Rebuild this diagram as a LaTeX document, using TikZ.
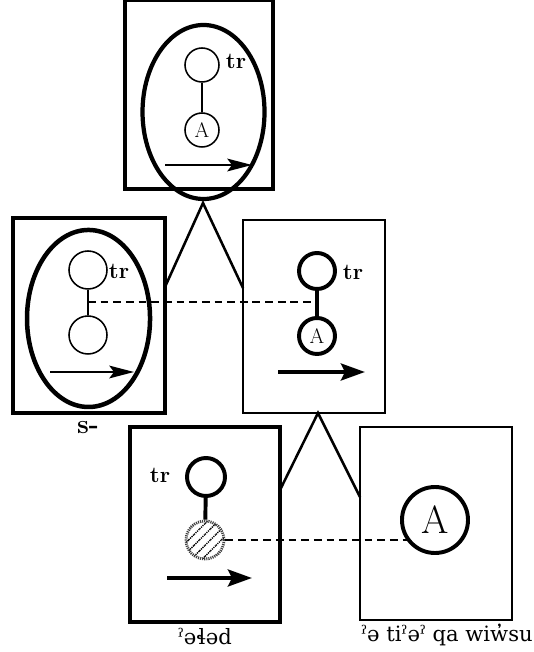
\documentclass[tikz,border=0pt]{standalone}
\usepackage{fontspec}
\usetikzlibrary{arrows.meta,patterns.meta}
\newfontfamily\ipafont{DejaVu Serif}
\begin{document}
\begin{tikzpicture}[
  frame/.style={draw, line width=2.6pt, inner sep=0pt, outer sep=0pt},
  thinframe/.style={draw, line width=1.6pt, inner sep=0pt, outer sep=0pt},
  slot/.style={draw, circle, line width=1.1pt, inner sep=0pt, minimum size=0.85cm, font=\fontsize{15}{15}\selectfont},
  boldslot/.style={slot, line width=2.8pt, minimum size=0.9cm},
  tier/.style={font=\fontsize{16}{16}\selectfont\bfseries},
  ring/.style={line width=3pt},
  link/.style={line width=1.8pt},
  tie/.style={line width=1.8pt, dash pattern=on 5.5pt off 3.5pt},
  path/.style={line width=1.1pt, -{Stealth[length=0.62cm, width=0.32cm, inset=0.12cm]}},
  boldpath/.style={line width=3pt, -{Stealth[length=0.6cm, width=0.42cm, inset=0.1cm]}},
  form/.style={font=\ipafont\fontsize{15}{15}\selectfont}
]
\useasboundingbox (0.000, 0.000) rectangle (13.325, 16.300);
% boxes
\node[frame, line width=2.2pt, minimum width=3.700cm, minimum height=4.725cm] (top) at (4.975, 13.938) {};
\node[frame, line width=3pt, minimum width=3.800cm, minimum height=4.875cm] (left) at (2.225, 8.413) {};
\node[thinframe, minimum width=3.550cm, minimum height=4.825cm] (mid) at (7.850, 8.388) {};
\node[frame, line width=3pt, minimum width=3.750cm, minimum height=4.875cm] (low) at (5.125, 3.188) {};
\node[thinframe, minimum width=3.800cm, minimum height=4.825cm] (obj) at (10.900, 3.213) {};
% branching
\coordinate (up) at (5.075, 11.225);
\coordinate (ul) at (4.125, 9.125);
\coordinate (ur) at (6.075, 9.100);
\draw[link] (ul) -- (up) -- (ur);
\coordinate (dn) at (7.950, 5.975);
\coordinate (dl) at (7.000, 4.050);
\coordinate (dr) at (9.000, 3.875);
\draw[link] (dl) -- (dn) -- (dr);
% top box
\draw[ring] (5.088, 13.500) ellipse [x radius=1.525, y radius=2.175];
\node[slot] (ttr) at (5.050, 14.675) {};
\node[slot] (ta) at (5.050, 13.050) {A};
\draw[line width=1.1pt] (ttr) -- (ta);
\node[tier] at (5.900, 14.775) {tr};
\coordinate (ts) at (4.125, 12.175);
\coordinate (te) at (6.300, 12.175);
\draw[path] (ts) -- (te);
% left box
\draw[ring, line width=3.2pt] (2.213, 8.338) ellipse [x radius=1.538, y radius=2.213];
\node[slot, minimum size=0.95cm] (ltr) at (2.200, 9.550) {};
\node[slot, minimum size=0.95cm] (lb) at (2.200, 7.925) {};
\draw[line width=1.1pt] (ltr) -- (lb);
\node[tier] at (2.975, 9.525) {tr};
\coordinate (ls) at (1.250, 7.000);
\coordinate (le) at (3.350, 7.000);
\draw[path] (ls) -- (le);
\node[font=\fontsize{19}{19}\selectfont\bfseries] (sfx) at (2.200, 5.600) {s-};
% middle box
\node[boldslot] (mtr) at (7.925, 9.525) {};
\node[boldslot] (ma) at (7.925, 7.900) {A};
\draw[line width=2.8pt] (mtr) -- (ma);
\node[tier] at (8.825, 9.500) {tr};
\coordinate (ms) at (6.950, 7.000);
\coordinate (me) at (9.125, 7.000);
\draw[boldpath] (ms) -- (me);
\coordinate (hl) at (2.200, 8.750);
\coordinate (hr) at (7.925, 8.750);
\draw[tie] (hl) -- (hr);
% lower left box
\node[boldslot, minimum size=0.95cm] (btr) at (5.150, 4.375) {};
\node[circle, inner sep=0pt, minimum size=0.95cm, pattern={Lines[angle=45, distance=5.5pt, line width=1pt]},
  draw=black!75, line width=2pt, dash pattern=on 0.8pt off 0.7pt] (bh) at (5.125, 2.800) {};
\draw[line width=2.8pt] (btr) -- (bh);
\node[tier] at (4.000, 4.425) {tr};
\coordinate (bs) at (4.175, 1.850);
\coordinate (be) at (6.300, 1.850);
\draw[boldpath] (bs) -- (be);
\node[form] (root) at (5.125, 0.375) {ˀəɬəd};
% lower right box
\node[boldslot, minimum size=1.65cm, font=\fontsize{28}{28}\selectfont] (big) at (10.875, 3.300) {A};
\draw[tie] (bh.east) -- (bh.east -| big.217);
\node[form] (np) at (11.175, 0.425) {ˀə tiˀəˀ qa wiw̓su};
\end{tikzpicture}
\end{document}
